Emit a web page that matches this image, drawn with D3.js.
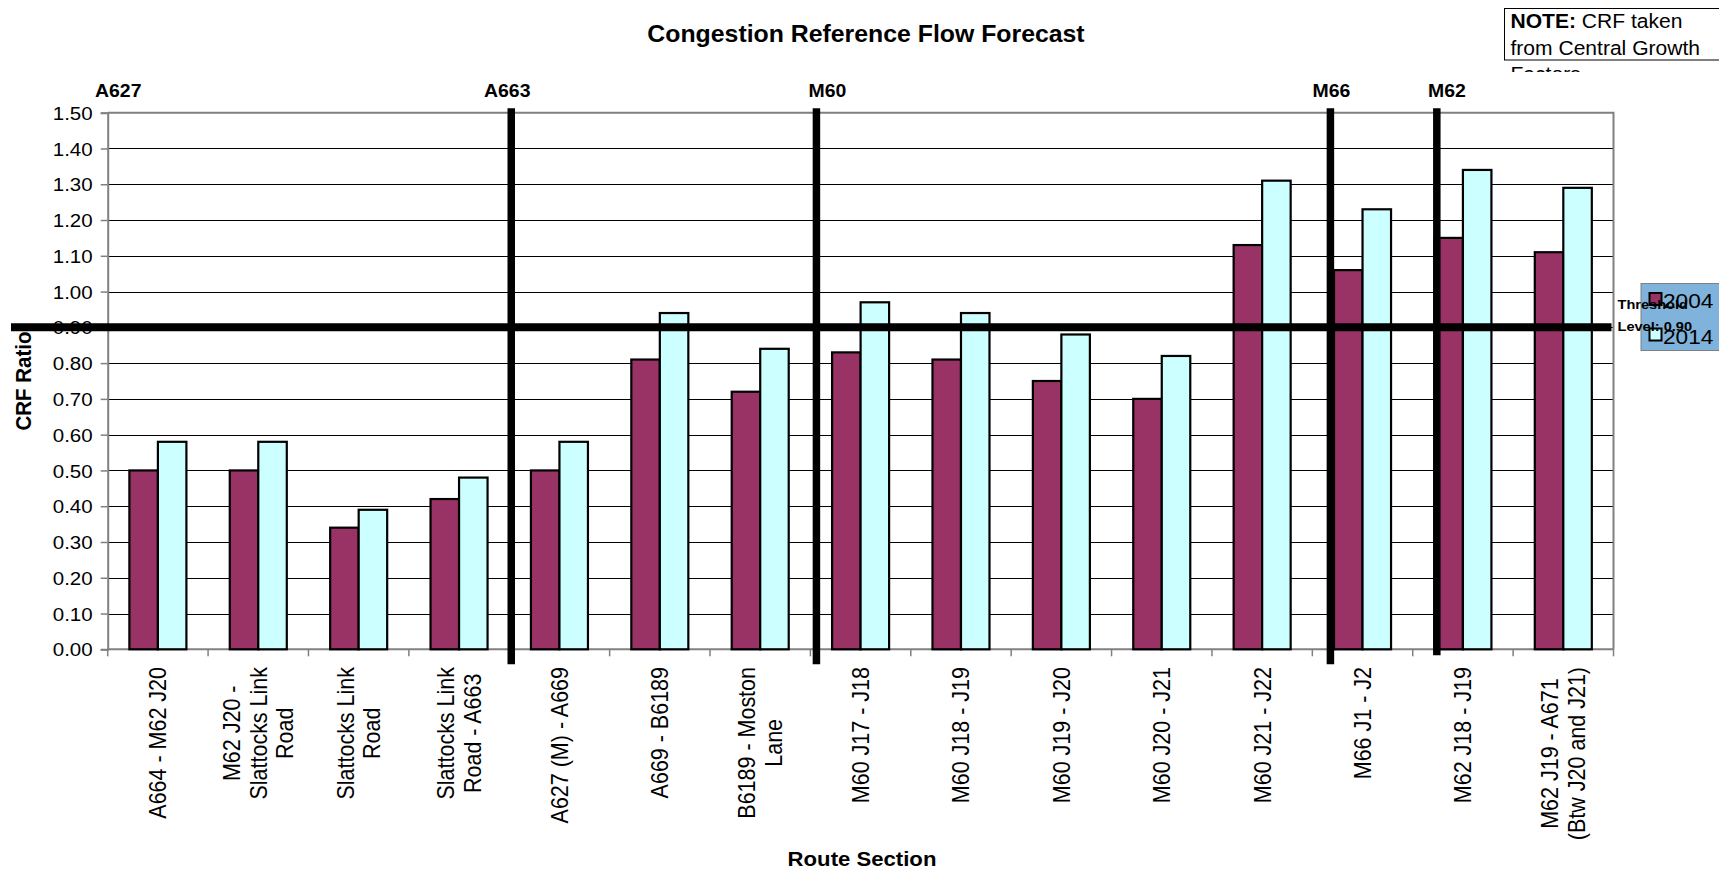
<!DOCTYPE html>
<html>
<head>
<meta charset="utf-8">
<script src="https://cdn.jsdelivr.net/npm/d3@7"></script>
<style>
  body { margin: 0; background: #fff; }
  svg { display: block; font-family: Arial, "Liberation Sans", sans-serif; }
</style>
</head>
<body>
<svg id="chart" width="1719" height="872"></svg>
<script>
// Route sections along the corridor (line breaks as printed under the axis)
const categories = [
  "A664 - M62 J20",
  "M62 J20 -\nSlattocks Link\nRoad",
  "Slattocks Link\nRoad",
  "Slattocks Link\nRoad - A663",
  "A627 (M) - A669",
  "A669 - B6189",
  "B6189 - Moston\nLane",
  "M60 J17 - J18",
  "M60 J18 - J19",
  "M60 J19 - J20",
  "M60 J20 - J21",
  "M60 J21 - J22",
  "M66 J1 - J2",
  "M62 J18 - J19",
  "M62 J19 - A671\n(Btw J20 and J21)"
];
const seriesNames = ["2004", "2014"];
const values2004 = [0.50, 0.50, 0.34, 0.42, 0.50, 0.81, 0.72, 0.83, 0.81, 0.75, 0.70, 1.13, 1.06, 1.15, 1.11];
const values2014 = [0.58, 0.58, 0.39, 0.48, 0.58, 0.94, 0.84, 0.97, 0.94, 0.88, 0.82, 1.31, 1.23, 1.34, 1.29];
const yTickValues = [0, 0.1, 0.2, 0.3, 0.4, 0.5, 0.6, 0.7, 0.8, 0.9, 1.0, 1.1, 1.2, 1.3, 1.4, 1.5];

// Road names marking where each road's sections begin (positions in category units)
const roadNames = ["A627", "A663", "M60", "M66", "M62"];
const roadLabelAt = [0.105, 3.98, 7.17, 12.19, 13.34];
const roadDividerAt = [null, 4.02, 7.06, 12.18, 13.24];

const thresholdValue = 0.90;
const thresholdText = ["Threshold", "Level: 0.90"];
const noteLines = [["NOTE:", " CRF taken"], ["", "from Central Growth"], ["", "Factors"]];

// ---- layout ----
const SX = 1.08;            // horizontal text stretch
const plot = { left: 107.7, right: 1613.5, top: 112.7, bottom: 649.3 };
const colors = { "2004": "#993366", "2014": "#ccffff" };

const svg = d3.select("#chart");
svg.append("rect").attr("width", 1719).attr("height", 872).attr("fill", "#fff");

const x = d3.scaleBand().domain(d3.range(categories.length)).range([plot.left, plot.right]).padding(0);
const xPos = d3.scaleLinear().domain([0, categories.length]).range([plot.left, plot.right]);
const y = d3.scaleLinear().domain([0, 1.5]).range([plot.bottom, plot.top]);
const barW = x.bandwidth() * 0.284;

function stretchedText(parent, tx, ty, extra) {
  return parent.append("text")
    .attr("transform", `translate(${tx},${ty}) scale(${SX},1)` + (extra || ""));
}

// gridlines
svg.append("g").selectAll("line")
  .data(yTickValues.filter(v => v > 0 && v < 1.5))
  .join("line")
  .attr("x1", plot.left).attr("x2", plot.right)
  .attr("y1", d => Math.round(y(d)) + 0.5).attr("y2", d => Math.round(y(d)) + 0.5)
  .attr("stroke", "#000").attr("stroke-width", 1);

// plot frame (top and right)
svg.append("path")
  .attr("d", `M${plot.left},${plot.top}H${plot.right}V${plot.bottom}`)
  .attr("fill", "none").attr("stroke", "#808080").attr("stroke-width", 2);

// y axis
const yAxis = svg.append("g").attr("transform", `translate(${plot.left},0)`)
  .call(d3.axisLeft(y).tickValues(yTickValues).tickFormat(d3.format(".2f")).tickSize(7).tickPadding(8));
yAxis.select(".domain").attr("stroke", "#808080").attr("stroke-width", 2);
yAxis.selectAll(".tick line").attr("stroke", "#808080").attr("stroke-width", 1.5);
yAxis.selectAll(".tick text")
  .attr("font-size", 19).attr("fill", "#000")
  .attr("x", null).attr("dy", null)
  .attr("transform", `translate(-15,0) scale(${SX},1)`)
  .attr("dy", "0.35em");

// x axis (ticks on category boundaries)
const xAxisG = svg.append("g");
xAxisG.append("line")
  .attr("x1", plot.left).attr("x2", plot.right)
  .attr("y1", plot.bottom).attr("y2", plot.bottom)
  .attr("stroke", "#808080").attr("stroke-width", 2);
xAxisG.selectAll(".xtick")
  .data(d3.range(categories.length + 1))
  .join("line").attr("class", "xtick")
  .attr("x1", d => xPos(d)).attr("x2", d => xPos(d))
  .attr("y1", plot.bottom).attr("y2", plot.bottom + 7)
  .attr("stroke", "#808080").attr("stroke-width", 1.5);

// bars
const bars = svg.append("g");
categories.forEach((c, i) => {
  const cx = x(i) + x.bandwidth() / 2;
  [values2004[i], values2014[i]].forEach((v, s) => {
    bars.append("rect")
      .attr("x", cx - barW + s * barW)
      .attr("y", y(v))
      .attr("width", barW)
      .attr("height", y(0) - y(v))
      .attr("fill", colors[seriesNames[s]])
      .attr("stroke", "#000").attr("stroke-width", 2.2);
  });
});

// category labels, rotated, each block top-aligned and lines centred
const catFont = 21.5, catLine = catFont * 1.15, catTop = 667;
const catG = svg.append("g").attr("font-size", catFont).attr("fill", "#000");
categories.forEach((c, i) => {
  const cx = x(i) + x.bandwidth() / 2;
  const lines = c.split("\n");
  const g = catG.append("g").attr("transform", `translate(${cx},${catTop}) scale(${SX},1) rotate(-90)`);
  const texts = lines.map((ln, k) => g.append("text").attr("text-anchor", "middle").text(ln)
    .attr("y", (k - (lines.length - 1) / 2) * catLine + catFont * 0.36));
  const maxLen = d3.max(texts, t => t.node().getComputedTextLength());
  texts.forEach(t => t.attr("x", -maxLen / 2));
});

// axis titles
stretchedText(svg, 866, 41.5).attr("text-anchor", "middle").attr("font-size", 23).attr("font-weight", "bold")
  .text("Congestion Reference Flow Forecast");
stretchedText(svg, 862, 866).attr("text-anchor", "middle").attr("font-size", 20.5).attr("font-weight", "bold")
  .text("Route Section");
stretchedText(svg, 31, (plot.top + plot.bottom) / 2, " rotate(-90)").attr("text-anchor", "middle")
  .attr("font-size", 20.5).attr("font-weight", "bold").text("CRF Ratio");

// road dividers and names
const dividerDrop = [0, 15, 15, 15, 6];
roadNames.forEach((name, i) => {
  stretchedText(svg, xPos(roadLabelAt[i]), 96.5).attr("text-anchor", "middle")
    .attr("font-size", 18).attr("font-weight", "bold").text(name);
  if (roadDividerAt[i] !== null) {
    svg.append("line")
      .attr("x1", xPos(roadDividerAt[i])).attr("x2", xPos(roadDividerAt[i]))
      .attr("y1", plot.top - 4.5).attr("y2", plot.bottom + dividerDrop[i])
      .attr("stroke", "#000").attr("stroke-width", 7.5);
  }
});

// legend
const legend = svg.append("g");
legend.append("rect").attr("x", 1641).attr("y", 283.5).attr("width", 90).attr("height", 67)
  .attr("fill", "#80b3dc").attr("stroke", "#808080").attr("stroke-width", 1);
seriesNames.forEach((s, k) => {
  const ly = 293 + k * 35.5;
  legend.append("rect").attr("x", 1649.5).attr("y", ly).attr("width", 12).attr("height", 12)
    .attr("fill", colors[s]).attr("stroke", "#000").attr("stroke-width", 2);
  stretchedText(legend, 1663, ly + 15).attr("font-size", 21).text(s);
});

// threshold line and its label
svg.append("line")
  .attr("x1", 11).attr("x2", plot.right - 2)
  .attr("y1", y(thresholdValue)).attr("y2", y(thresholdValue))
  .attr("stroke", "#000").attr("stroke-width", 8);
thresholdText.forEach((t, k) => {
  stretchedText(svg, 1617.5, y(thresholdValue) - 18 + k * 21.5)
    .attr("font-size", 13.5).attr("font-weight", "bold").text(t);
});

// note box (text overflows the box and is cut off below)
svg.append("defs").append("clipPath").attr("id", "noteClip")
  .append("rect").attr("x", 1500).attr("y", 0).attr("width", 219).attr("height", 72);
svg.append("rect").attr("x", 1504.5).attr("y", 8.5).attr("width", 220).attr("height", 51.5)
  .attr("fill", "#fff").attr("stroke", "#000").attr("stroke-width", 1);
const noteG = svg.append("g").attr("clip-path", "url(#noteClip)");
noteLines.forEach((parts, k) => {
  const t = stretchedText(noteG, 1510.5, 28 + k * 26.5).attr("font-size", 19.5);
  if (parts[0]) t.append("tspan").attr("font-weight", "bold").text(parts[0]);
  t.append("tspan").text(parts[1]);
});
</script>
</body>
</html>
